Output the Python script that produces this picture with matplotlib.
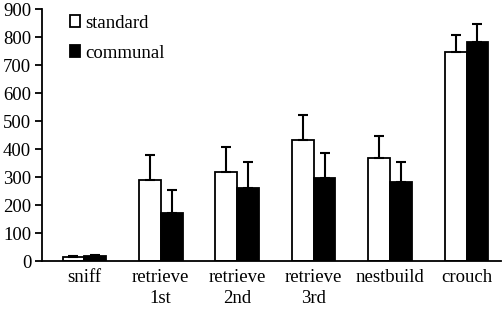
import numpy as np
import matplotlib
matplotlib.use('Agg')
import matplotlib.pyplot as plt

plt.rcParams['font.family'] = ['Liberation Serif', 'DejaVu Serif']

categories = ['sniff', 'retrieve\n1st', 'retrieve\n2nd', 'retrieve\n3rd', 'nestbuild', 'crouch']
standard = [15, 290, 320, 432, 368, 745]
standard_err = [3, 90, 88, 90, 77, 63]
communal = [18, 172, 262, 297, 282, 783]
communal_err = [3, 83, 93, 90, 71, 65]

x = np.arange(len(categories))
w = 0.285

fig = plt.figure(figsize=(5.03, 3.12), dpi=100)
ax = fig.add_axes([0.084, 0.163, 0.912, 0.808])

ax.bar(x - w / 2, standard, w, color='white', edgecolor='black', linewidth=1.3,
       yerr=[np.zeros(len(x)), standard_err], capsize=3.5,
       error_kw={'elinewidth': 1.5, 'capthick': 1.5}, label='standard')
ax.bar(x + w / 2, communal, w, color='black', edgecolor='black', linewidth=1.3,
       yerr=[np.zeros(len(x)), communal_err], capsize=3.5,
       error_kw={'elinewidth': 1.5, 'capthick': 1.5}, label='communal')

ax.set_xlim(-0.55, 5.45)
ax.set_ylim(0, 900)
ax.set_yticks(range(0, 901, 100))
ax.set_xticks(x)
ax.set_xticklabels(categories, fontsize=13.5, linespacing=1.25)
ax.tick_params(axis='x', length=0, pad=6)
ax.tick_params(axis='y', labelsize=13.5, direction='out', length=5, width=1.3, pad=3)
for s in ['top', 'right']:
    ax.spines[s].set_visible(False)
for s in ['left', 'bottom']:
    ax.spines[s].set_linewidth(1.3)

leg = ax.legend(loc='upper left', bbox_to_anchor=(0.024, 1.045), frameon=False,
                fontsize=13.5, handlelength=0.55, handleheight=0.55,
                handletextpad=0.25, labelspacing=0.7)

plt.savefig('out.png', dpi=100)
